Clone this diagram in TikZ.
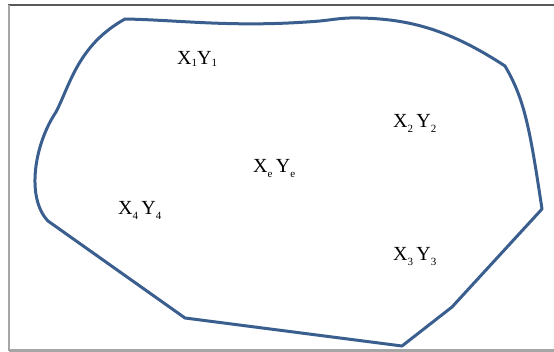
\documentclass[tikz,border=0pt]{standalone}
\usepackage{fontspec}
\setmainfont{Liberation Serif}
\usetikzlibrary{positioning}

\definecolor{outline}{HTML}{3A5F8F}
\newcommand{\sub}[2][5pt]{\raisebox{-#1}{\fontsize{11}{11}\selectfont #2}}

\begin{document}
\begin{tikzpicture}[x=1pt,y=-1pt,
  lbl/.style={inner sep=0pt,anchor=base west,font=\fontsize{20}{20}\selectfont},
  boundary/.style={draw=outline,line width=3pt,line join=round}]
\useasboundingbox (0,0) rectangle (554,352);
% frame
\draw[line width=2.5pt,black!65] (8,5) -- (554,5);
\draw[line width=2.5pt,black!35] (9,5) -- (9,351);
\draw[line width=2.2pt,black!35] (9,350.5) -- (554,350.5);
% region
\draw[boundary] (125,19) .. controls (180,20) and (235,28) .. (320,21)
  .. controls (335,19.5) and (342,17.5) .. (360,18)
  .. controls (410,19) and (450,30) .. (505,66)
  .. controls (525,100) and (530,130) .. (542,209)
  -- (452,307) -- (402,346) -- (185,318) -- (48,221)
  .. controls (26,198) and (34,145) .. (56,112)
  .. controls (70,85) and (78,45) .. (125,19) -- cycle;
% points
\node[lbl] (p1) at (177,65) {X\sub[2pt]{1}Y\sub[2pt]{1}};
\node[lbl] (p2) at (393,128) {X\sub{2}\,Y\sub{2}};
\node[lbl] (pe) at (253,173) {X\sub{e}\,Y\sub{e}};
\node[lbl] (p4) at (118,215) {X\sub{4}\,Y\sub{4}};
\node[lbl] (p3) at (393,261) {X\sub{3}\,Y\sub{3}};
\end{tikzpicture}
\end{document}
